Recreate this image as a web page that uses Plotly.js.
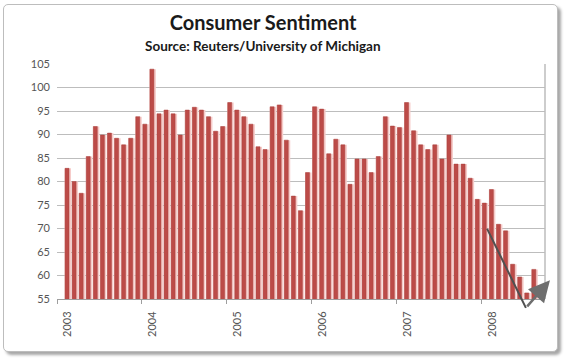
<!DOCTYPE html>
<html>
<head>
<meta charset="utf-8">
<script src="https://cdn.plot.ly/plotly-3.0.1.min.js"></script>
<style>
  html, body { margin: 0; padding: 0; background: #ffffff; width: 567px; height: 362px; overflow: hidden; }
  #frame { position: absolute; left: 3px; top: 4px; width: 553px; height: 346px;
           border: 1px solid #BDBDBD; border-radius: 5px; background: #ffffff;
           box-shadow: 3px 3px 3px rgba(0,0,0,0.35); }
  #chart { position: absolute; left: 0; top: 0; width: 567px; height: 362px; }
</style>
</head>
<body>
<div id="frame"></div>
<div id="chart"></div>
<script>
// Tick labels (years) and month names
var years = ["2003", "2004", "2005", "2006", "2007", "2008"];
var monthNames = ["Jan","Feb","Mar","Apr","May","Jun","Jul","Aug","Sep","Oct","Nov","Dec"];

// Consumer sentiment index, monthly
var s2003 = [82.8, 80.0, 77.5, 85.3, 91.7, 89.9, 90.3, 89.2, 87.8, 89.2, 93.8, 92.2];
var s2004 = [103.9, 94.4, 95.2, 94.4, 89.9, 95.2, 95.8, 95.2, 93.8, 90.7, 91.7, 96.8];
var s2005 = [95.2, 93.8, 92.2, 87.4, 86.8, 95.9, 96.3, 88.8, 76.9, 73.8, 81.9, 95.9];
var s2006 = [95.4, 85.9, 89.0, 87.8, 79.4, 84.8, 84.8, 81.9, 85.3, 93.8, 91.8, 91.5];
var s2007 = [96.8, 90.8, 87.8, 86.8, 87.8, 84.8, 89.9, 83.7, 83.7, 80.7, 76.2, 75.4];
var s2008 = [78.3, 70.9, 69.5, 62.4, 59.7, 56.3, 61.3];

var values = [].concat(s2003, s2004, s2005, s2006, s2007, s2008);
var categories = [];
years.forEach(function (y) {
  monthNames.forEach(function (m) { categories.push(m + " " + y); });
});
categories = categories.slice(0, values.length);

// Year label positions (January of each year) and tick-mark positions
var yearLabelCats = years.map(function (y) { return "Jan " + y; });
var yearTickPos = [-1.5, 10.5, 22.5, 34.5, 46.5, 58.5];

// Hand-drawn trend arrow (category index, value)
var arrowStart = [59.2, 70.3];
var arrowBottom = [64.8, 53.1];
var arrowEnd = [68.2, 59.0];

var FONT = "Lato, 'Open Sans', sans-serif";

// soft pink "shadow" band behind each bar
var shadow = {
  type: "bar", x: categories, y: values,
  width: 0.9, offset: -0.42,
  marker: { color: "#F6CBC9", line: { width: 0 } },
  hoverinfo: "skip"
};
// main dark red bar
var trace = {
  type: "bar", x: categories, y: values,
  width: 0.56, offset: -0.36,
  marker: { color: "#BC4B48", line: { color: "#A8403D", width: 0.5 } },
  hoverinfo: "x+y"
};

var layout = {
  width: 567, height: 362,
  margin: { l: 57, r: 22, t: 64, b: 63, pad: 0 },
  paper_bgcolor: "rgba(0,0,0,0)",
  plot_bgcolor: "rgba(0,0,0,0)",
  showlegend: false,
  barmode: "overlay",
  title: {
    text: "<b>Consumer Sentiment</b>",
    font: { family: FONT, size: 20, color: "#1a1a1a" },
    xref: "container", x: 0.464, xanchor: "center",
    yref: "container", y: 1 - 23 / 362, yanchor: "middle"
  },
  xaxis: {
    type: "category",
    range: [-1.5, 67.5],
    tickmode: "array",
    tickvals: yearLabelCats,
    ticktext: years,
    tickangle: -90,
    ticks: "",
    ticklabelstandoff: 7,
    tickfont: { family: FONT, size: 11, color: "#555555" },
    showline: true, linecolor: "#9E9E9E", linewidth: 1,
    showgrid: false, zeroline: false, fixedrange: true
  },
  xaxis2: {
    overlaying: "x", anchor: "y", side: "bottom",
    type: "linear", range: [-1.5, 67.5],
    tickmode: "array", tickvals: yearTickPos,
    ticks: "outside", ticklen: 4, tickcolor: "#9E9E9E", tickwidth: 1,
    showticklabels: false, showgrid: false, zeroline: false, showline: false
  },
  yaxis: {
    range: [55, 105],
    tickmode: "linear", tick0: 55, dtick: 5,
    ticks: "",
    ticklabelstandoff: 6,
    tickfont: { family: FONT, size: 11, color: "#555555" },
    showgrid: true, gridcolor: "#BDBDBD", gridwidth: 1,
    zeroline: false, showline: false, fixedrange: true
  },
  shapes: [
    { type: "line", xref: "paper", yref: "paper", x0: 1, x1: 1, y0: 0, y1: 1,
      line: { color: "#BDBDBD", width: 1.5 } }
  ],
  annotations: [
    { xref: "paper", yref: "paper", x: 0.422, y: 1.077, xanchor: "center", yanchor: "middle",
      text: "<b>Source: Reuters/University of Michigan</b>", showarrow: false,
      font: { family: FONT, size: 13.5, color: "#1a1a1a" } },
    { xref: "x", yref: "y", axref: "x", ayref: "y",
      x: arrowBottom[0], y: arrowBottom[1], ax: arrowStart[0], ay: arrowStart[1],
      text: "", showarrow: true, arrowhead: 0, arrowwidth: 2, arrowcolor: "#505050",
      standoff: 0, startstandoff: 0 },
    { xref: "x", yref: "y", axref: "x", ayref: "y",
      x: arrowEnd[0], y: arrowEnd[1], ax: arrowBottom[0], ay: arrowBottom[1],
      text: "", showarrow: true, arrowhead: 2, arrowsize: 1.7, arrowwidth: 2.5, arrowcolor: "#6E6E6E",
      standoff: 0, startstandoff: 0 }
  ]
};

var dummy = { type: "scatter", x: [], y: [], xaxis: "x2", yaxis: "y", hoverinfo: "skip", showlegend: false };

Plotly.newPlot("chart", [shadow, trace, dummy], layout, { staticPlot: true, displayModeBar: false });
</script>
</body>
</html>
